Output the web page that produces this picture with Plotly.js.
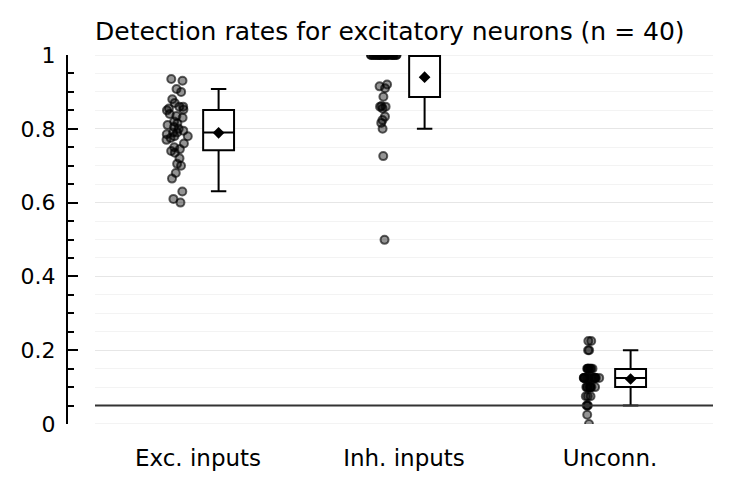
<!DOCTYPE html>
<html>
<head>
<meta charset="utf-8">
<script src="https://cdn.plot.ly/plotly-3.0.1.min.js"></script>
<style>html,body{margin:0;padding:0;background:#fff;}#chart{width:734px;height:491px;}</style>
</head>
<body>
<div id="chart"></div>
<script>
// ---- data ----
const categories = ["Exc. inputs", "Inh. inputs", "Unconn."];

const excRates = [0.935, 0.93, 0.908, 0.90, 0.88, 0.87, 0.86, 0.86, 0.855, 0.852,
  0.85, 0.84, 0.835, 0.83, 0.82, 0.815, 0.81, 0.805, 0.80, 0.795,
  0.79, 0.79, 0.785, 0.78, 0.78, 0.775, 0.77, 0.76, 0.75, 0.745,
  0.74, 0.735, 0.72, 0.705, 0.70, 0.68, 0.665, 0.63, 0.61, 0.60];

const inhRates = [1, 1, 1, 1, 1, 1, 1, 1, 1, 1,
  1, 1, 1, 1, 1, 1, 1, 1, 1, 1,
  1, 1, 1, 1, 1, 1, 0.92, 0.915, 0.91, 0.887,
  0.862, 0.86, 0.86, 0.855, 0.833, 0.824, 0.816, 0.80, 0.726, 0.499];

const unconnRates = [0.225, 0.225, 0.2, 0.2, 0.15, 0.15, 0.15, 0.15, 0.15, 0.15,
  0.15, 0.125, 0.125, 0.125, 0.125, 0.125, 0.125, 0.125, 0.125, 0.125,
  0.125, 0.125, 0.125, 0.125, 0.1, 0.1, 0.1, 0.1, 0.1, 0.1,
  0.1, 0.1, 0.075, 0.075, 0.075, 0.05, 0.05, 0.05, 0.025, 0];

// box statistics (whiskers as drawn in the reference)
const q1 = [0.742, 0.886, 0.10];
const medians = [0.79, 1.0, 0.125];
const q3 = [0.851, 1.0, 0.149];
const lowerWhisker = [0.631, 0.80, 0.05];
const upperWhisker = [0.908, 1.0, 0.20];
const means = [0.789, 0.940, 0.122];

const threshold = 0.05;
const yTicks = [0, 0.2, 0.4, 0.6, 0.8, 1];

// ---- build traces ----
const groups = [excRates, inhRates, unconnRates];
const ptsX = [], ptsY = [];
groups.forEach((g, i) => g.forEach(v => { ptsX.push(categories[i]); ptsY.push(v); }));

const FONT = "DejaVu Sans";

const points = {
  type: "box", x: ptsX, y: ptsY, name: "points",
  boxpoints: "all", jitter: 0.85, pointpos: 0,
  fillcolor: "rgba(0,0,0,0)", line: {color: "rgba(0,0,0,0)", width: 0},
  whiskerwidth: 0,
  marker: {size: 8, color: "rgba(0,0,0,0.42)", line: {color: "rgba(0,0,0,0.62)", width: 2}},
  hoverinfo: "skip", showlegend: false
};

const boxes = {
  type: "box", x: categories, name: "box",
  q1: q1, median: medians, q3: q3,
  lowerfence: lowerWhisker, upperfence: upperWhisker,
  boxpoints: false, whiskerwidth: 0.5,
  fillcolor: "#ffffff", line: {color: "#000000", width: 2},
  showlegend: false
};

const meanMarks = {
  type: "scatter", mode: "markers", x: categories, y: means,
  xaxis: "x2", yaxis: "y",
  marker: {symbol: "diamond", size: 9, color: "#000000"},
  showlegend: false, hoverinfo: "skip"
};

const L = 67, R = 21, T = 55, B = 67;
const plotW = 734 - L - R;
const domStart = (95 - L) / plotW;

const layout = {
  width: 734, height: 491,
  margin: {l: L, r: R, t: T, b: B, pad: 0},
  paper_bgcolor: "#ffffff", plot_bgcolor: "#ffffff",
  font: {family: FONT, size: 22, color: "#000000"},
  title: {text: "Detection rates for excitatory neurons (n = 40)",
    font: {family: FONT, size: 25, color: "#000000"},
    xref: "paper", x: domStart, xanchor: "left",
    yref: "container", y: 1 - 31 / 491, yanchor: "middle"},
  boxmode: "group", boxgap: 0.6, boxgroupgap: 0.25,
  xaxis: {type: "category", categoryorder: "array", categoryarray: categories,
    domain: [domStart, 1], range: [-0.5, 2.5],
    showgrid: false, zeroline: false, showline: false, ticks: "",
    ticklabelstandoff: 18, tickfont: {family: FONT, size: 23, color: "#000"}},
  xaxis2: {type: "category", categoryorder: "array", categoryarray: categories,
    overlaying: "x", domain: [domStart, 1], range: [-0.6, 2.4], visible: false},
  yaxis: {range: [0, 1], anchor: "free", position: 0,
    tickvals: yTicks, ticks: "inside", ticklen: 10, tickwidth: 2, tickcolor: "#000",
    showline: true, linecolor: "#000", linewidth: 2,
    showgrid: true, gridcolor: "#e6e6e6", gridwidth: 1, zeroline: false,
    ticklabelstandoff: 6, tickfont: {family: FONT, size: 22, color: "#000"},
    minor: {dtick: 0.05, tick0: 0, ticks: "inside", ticklen: 6, tickwidth: 2, tickcolor: "#000",
      showgrid: true, gridcolor: "#f3f3f3", gridwidth: 1}},
  shapes: [
    {type: "line", xref: "paper", x0: domStart, x1: 1, yref: "y", y0: 0, y1: 0,
      line: {color: "#e6e6e6", width: 1}, layer: "below"},
    {type: "line", xref: "paper", x0: domStart, x1: 1, yref: "y", y0: 1, y1: 1,
      line: {color: "#e6e6e6", width: 1}, layer: "below"},
    {type: "line", xref: "paper", x0: domStart, x1: 1, yref: "y", y0: threshold, y1: threshold,
      line: {color: "#333333", width: 2}}]
};

Plotly.newPlot("chart", [points, boxes, meanMarks], layout, {displayModeBar: false, staticPlot: true});
</script>
</body>
</html>
